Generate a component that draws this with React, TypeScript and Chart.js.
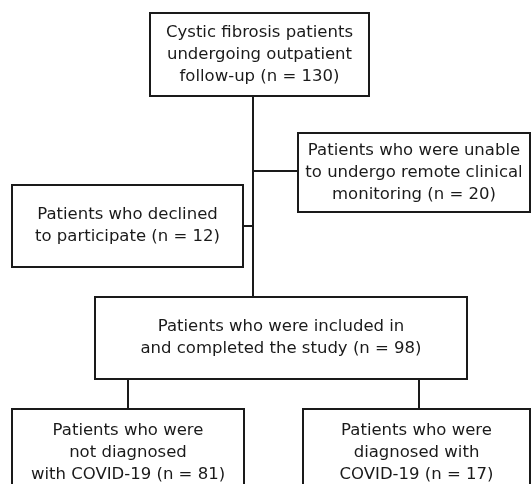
import React, { useEffect, useRef } from "react";
import { Chart, registerables } from "chart.js";

Chart.register(...registerables);

// ---- data: patient counts per step of the flow ----
const counts = [130, 20, 12, 98, 81, 17];
const boxTextTemplates: string[][] = [
  ["Cystic fibrosis patients", "undergoing outpatient", "follow-up (n = {n})"],
  ["Patients who were unable", "to undergo remote clinical", "monitoring (n = {n})"],
  ["Patients who declined", "to participate (n = {n})"],
  ["Patients who were included in", "and completed the study (n = {n})"],
  ["Patients who were", "not diagnosed", "with COVID-19 (n = {n})"],
  ["Patients who were", "diagnosed with", "COVID-19 (n = {n})"],
];

// ---- layout (in scale units) ----
const boxLeft = [150, 298, 12, 95, 12, 303];
const boxRight = [369, 530, 243, 467, 244, 530];
const boxTop = [13, 133, 185, 297, 409, 409];
const boxBottom = [96, 212, 267, 379, 500, 500];
const linkX1 = [253, 253, 243, 128, 419];
const linkY1 = [96, 171, 226, 379, 379];
const linkX2 = [253, 298, 253, 128, 419];
const linkY2 = [297, 171, 226, 409, 409];

const FONT = '16.5px "DejaVu Sans"';
const LINE_H = 22;
const INK = "#1a1a1a";

export default function App() {
  const ref = useRef<HTMLCanvasElement | null>(null);
  useEffect(() => {
    if (!ref.current) return;
    const labels = boxTextTemplates.map((lines, i) =>
      lines.map((l) => l.replace("{n}", String(counts[i])))
    );
    const boxSets = boxLeft.map((l, i) => ({
      type: "line" as const,
      data: [
        { x: l, y: boxTop[i] },
        { x: boxRight[i], y: boxTop[i] },
        { x: boxRight[i], y: boxBottom[i] },
        { x: l, y: boxBottom[i] },
        { x: l, y: boxTop[i] },
      ],
      borderColor: INK,
      borderWidth: 2,
      borderCapStyle: "square" as const,
      borderJoinStyle: "miter" as const,
      pointRadius: 0,
      showLine: true,
      fill: false,
      tension: 0,
    }));
    const linkSets = linkX1.map((x1, i) => ({
      type: "line" as const,
      data: [
        { x: x1, y: linkY1[i] },
        { x: linkX2[i], y: linkY2[i] },
      ],
      borderColor: INK,
      borderWidth: 2,
      pointRadius: 0,
      showLine: true,
      fill: false,
      tension: 0,
    }));
    const textPlugin = {
      id: "boxText",
      afterDatasetsDraw(chart: any) {
        const { ctx, scales } = chart;
        ctx.save();
        ctx.font = FONT;
        ctx.fillStyle = INK;
        ctx.textAlign = "center";
        ctx.textBaseline = "middle";
        labels.forEach((lines, i) => {
          const cx = scales.x.getPixelForValue((boxLeft[i] + boxRight[i]) / 2);
          const bottom = Math.min(boxBottom[i], 484 + 8);
          const cy = scales.y.getPixelForValue((boxTop[i] + (i >= 4 ? 496 : bottom)) / 2);
          lines.forEach((t, k) => {
            ctx.fillText(t, cx, cy + (k - (lines.length - 1) / 2) * LINE_H);
          });
        });
        ctx.restore();
      },
    };
    const chart = new Chart(ref.current, {
      type: "scatter",
      data: { datasets: [...linkSets, ...boxSets] as any },
      options: {
        animation: false,
        responsive: false,
        layout: { padding: 0 },
        plugins: { legend: { display: false }, tooltip: { enabled: false } },
        scales: {
          x: { type: "linear", min: 0, max: 532, display: false },
          y: { type: "linear", min: 0, max: 484, reverse: true, display: false },
        },
      },
      plugins: [textPlugin],
    });
    return () => chart.destroy();
  }, []);
  return (
    <div style={{ position: "fixed", left: 0, top: 0, width: 532, height: 484, background: "#fff" }}>
      <canvas ref={ref} width={532} height={484} />
    </div>
  );
}
